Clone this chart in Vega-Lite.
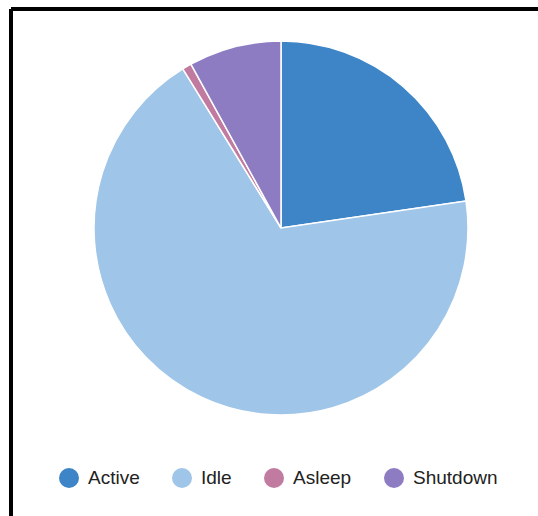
{
  "$schema": "https://vega.github.io/schema/vega-lite/v6.json",
  "padding": {"left": 9, "top": 7, "right": 0, "bottom": 0},
  "background": "white",
  "data": {"values": [
    {"status": "Active", "share": 22.7, "idx": 1},
    {"status": "Idle", "share": 68.5, "idx": 2},
    {"status": "Asleep", "share": 0.8, "idx": 3},
    {"status": "Shutdown", "share": 8.0, "idx": 4}
  ]},
  "spacing": 0,
  "bounds": "flush",
  "config": {"view": {"stroke": null}},
  "vconcat": [
    {
      "width": 540,
      "height": 438,
      "view": {"stroke": "black", "strokeWidth": 4, "strokeDash": [540, 978, 438, 0]},
      "mark": {"type": "arc", "outerRadius": 187, "stroke": "white", "strokeWidth": 1.5},
      "encoding": {
        "theta": {"field": "share", "type": "quantitative", "stack": true},
        "order": {"field": "idx", "type": "quantitative"},
        "color": {
          "field": "status",
          "type": "nominal",
          "sort": ["Active", "Idle", "Asleep", "Shutdown"],
          "scale": {"domain": ["Active", "Idle", "Asleep", "Shutdown"], "range": ["#3d85c6", "#9fc5e8", "#c27ba0", "#8e7cc3"]},
          "legend": {
            "orient": "none",
            "direction": "horizontal",
            "legendX": 48,
            "legendY": 459,
            "title": null,
            "symbolType": "circle",
            "symbolSize": 400,
            "symbolStrokeWidth": 0,
            "labelFontSize": 19,
            "labelFont": "Liberation Sans",
            "labelColor": "#222222",
            "columnPadding": 32,
            "labelOffset": 9,
            "padding": 0
          }
        }
      }
    },
    {
      "width": 540,
      "height": 80,
      "view": {"stroke": "black", "strokeWidth": 4, "strokeDash": [0, 1160, 80, 0]},
      "mark": "text",
      "encoding": {"text": {"value": ""}}
    }
  ]
}
